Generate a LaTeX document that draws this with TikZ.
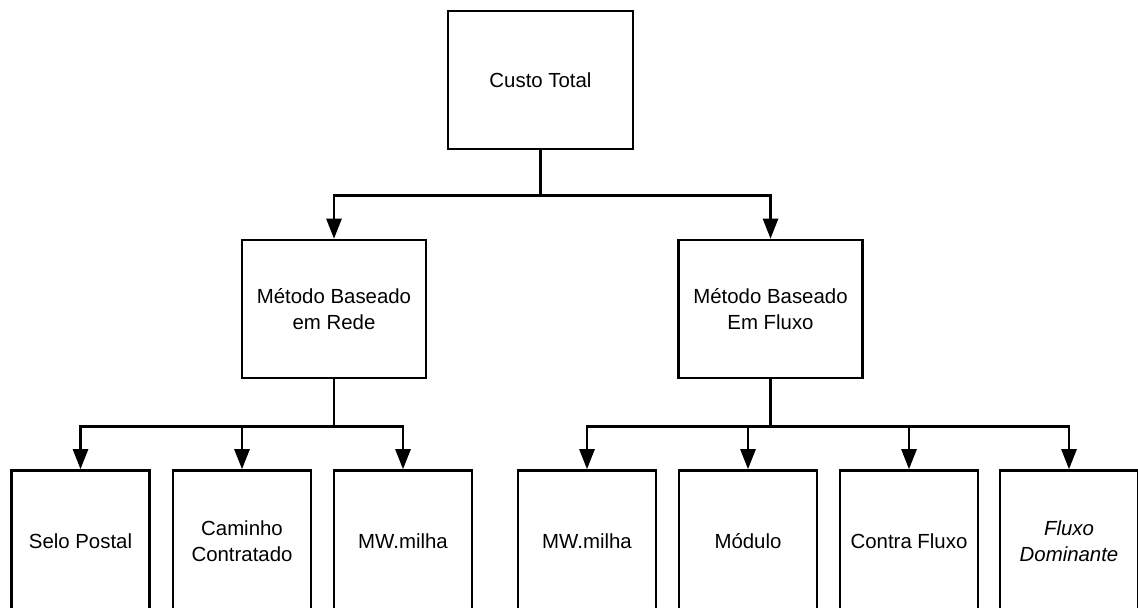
\documentclass[tikz,border=0pt]{standalone}
\usepackage{fontspec}
\setmainfont{Liberation Sans}
\usepackage{tikz}
\usetikzlibrary{shapes,arrows.meta}

\begin{document}
\begin{tikzpicture}[x=0.5pt,y=0.5pt]
        \tikzset{Box/.style={draw,line width=1.3pt,rectangle,align=center,
                 inner sep=0pt,font=\fontsize{10.2}{13}\selectfont},
                 Mid/.style={Box,minimum width=92pt,minimum height=69pt},
                 Leaf/.style={Box,minimum width=69pt,minimum height=70.5pt},
                 EdgeStyle/.style={line width=1.3pt,-{Triangle[length=10pt,width=7.5pt]}}}

        \clip (0,0) rectangle (1138,607);

        \node[Box,minimum width=92.5pt,minimum height=69pt] (CT) at (540.5,527) {Custo Total};

        \node[Mid] (MR) at (334,298)   {Método Baseado\\em Rede};
        \node[Mid] (MF) at (770.5,298) {Método Baseado\\Em Fluxo};

        \node[Leaf] (R1) at (80.5,66) {Selo Postal};
        \node[Leaf] (R2) at (242,66)  {Caminho\\Contratado};
        \node[Leaf] (R3) at (403,66)  {MW.milha};
        \node[Leaf] (F1) at (587,66)  {MW.milha};
        \node[Leaf] (F2) at (748,66)  {Módulo};
        \node[Leaf] (F3) at (909,66)  {Contra Fluxo};
        \node[Leaf] (F4) at (1069,66) {\itshape Fluxo\\\itshape Dominante};

        \draw[EdgeStyle] (CT.south) -- ++(0,-45) -| (MR.north);
        \draw[EdgeStyle] (CT.south) -- ++(0,-45) -| (MF.north);

        \foreach \n in {R1,R2,R3}
            \draw[EdgeStyle] (MR.south) -- ++(0,-47) -| (\n.north);
        \foreach \n in {F1,F2,F3,F4}
            \draw[EdgeStyle] (MF.south) -- ++(0,-47) -| (\n.north);
\end{tikzpicture}
\end{document}
